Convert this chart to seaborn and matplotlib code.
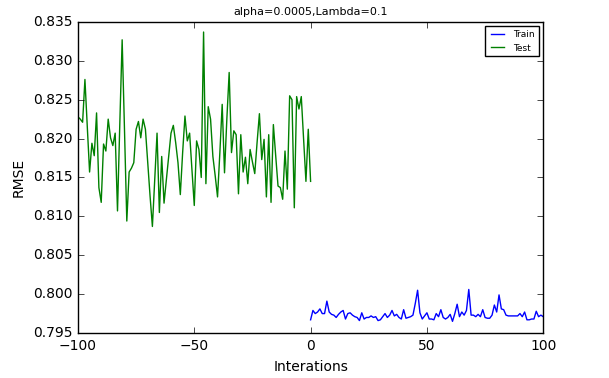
import numpy as np
import matplotlib
matplotlib.use("Agg")
import matplotlib.pyplot as plt
import seaborn as sns

# Iteration indices
test_iters = np.arange(-100, 1)
train_iters = np.arange(0, 101)

# RMSE (Test: -100..0, Train: 0..100)
test_rmse = [
    0.8228, 0.8225, 0.8221, 0.8276, 0.8216, 0.8157, 0.8194, 0.8178, 0.8233, 0.8137,
    0.8118, 0.8193, 0.8184, 0.8225, 0.8201, 0.8191, 0.8207, 0.8107, 0.8220, 0.8327,
    0.8212, 0.8094, 0.8157, 0.8162, 0.8169, 0.8212, 0.8222, 0.8201, 0.8225, 0.8212,
    0.8169, 0.8126, 0.8087, 0.8147, 0.8207, 0.8105, 0.8177, 0.8117, 0.8147, 0.8177,
    0.8207, 0.8217, 0.8195, 0.8169, 0.8128, 0.8182, 0.8229, 0.8197, 0.8207, 0.8160,
    0.8114, 0.8197, 0.8186, 0.8150, 0.8337, 0.8142, 0.8241, 0.8225, 0.8177, 0.8152,
    0.8125, 0.8182, 0.8244, 0.8156, 0.8225, 0.8285, 0.8182, 0.8210, 0.8205, 0.8129,
    0.8205, 0.8157, 0.8176, 0.8142, 0.8186, 0.8170, 0.8155, 0.8195, 0.8232, 0.8173,
    0.8199, 0.8125, 0.8205, 0.8118, 0.8218, 0.8178, 0.8139, 0.8137, 0.8122, 0.8184,
    0.8135, 0.8255, 0.8250, 0.8111, 0.8254, 0.8238, 0.8254, 0.8199, 0.8145, 0.8212,
    0.8145,
]
train_rmse = [
    0.7967, 0.7979, 0.7975, 0.7977, 0.7981, 0.7975, 0.7975, 0.7991, 0.7977, 0.7974,
    0.7973, 0.7970, 0.7974, 0.7977, 0.7979, 0.7968, 0.7975, 0.7976, 0.7973, 0.7971,
    0.7970, 0.7966, 0.7976, 0.7968, 0.7970, 0.7970, 0.7972, 0.7970, 0.7971, 0.7966,
    0.7967, 0.7971, 0.7975, 0.7970, 0.7973, 0.7979, 0.7972, 0.7974, 0.7970, 0.7968,
    0.7980, 0.7969, 0.7970, 0.7971, 0.7973, 0.7988, 0.8005, 0.7976, 0.7968, 0.7972,
    0.7976, 0.7968, 0.7968, 0.7967, 0.7975, 0.7971, 0.7980, 0.7970, 0.7968, 0.7970,
    0.7974, 0.7965, 0.7975, 0.7987, 0.7971, 0.7977, 0.7973, 0.7979, 0.8006, 0.7973,
    0.7973, 0.7971, 0.7974, 0.7971, 0.7980, 0.7970, 0.7969, 0.7969, 0.7973, 0.7986,
    0.7977, 0.7999, 0.7981, 0.7980, 0.7973, 0.7972, 0.7972, 0.7972, 0.7972, 0.7972,
    0.7975, 0.7971, 0.7977, 0.7967, 0.7967, 0.7968, 0.7968, 0.7978, 0.7971, 0.7973,
    0.7971,
]

plt.style.use("classic")
fig = plt.figure(figsize=(6.09, 3.78), dpi=100, facecolor="white")
ax = fig.add_axes([0.128, 0.119, 0.764, 0.823])

sns.lineplot(x=train_iters, y=train_rmse, color="b", label="Train", ax=ax, linewidth=1)
sns.lineplot(x=test_iters, y=test_rmse, color="g", label="Test", ax=ax, linewidth=1)

ax.set_xlim(-100, 100)
ax.set_ylim(0.795, 0.835)
ax.set_xticks([-100, -50, 0, 50, 100])
ax.set_yticks(np.arange(0.795, 0.8351, 0.005))
ax.yaxis.set_major_formatter(matplotlib.ticker.FormatStrFormatter("%.3f"))
ax.tick_params(labelsize=10)
ax.set_xlabel("Interations", fontsize=10)
ax.set_ylabel("RMSE", fontsize=10)
ax.set_title("alpha=0.0005,Lambda=0.1", fontsize=8)
ax.legend(loc="upper right", fontsize=6.5)

fig.savefig("out.png", dpi=100, facecolor="white")
